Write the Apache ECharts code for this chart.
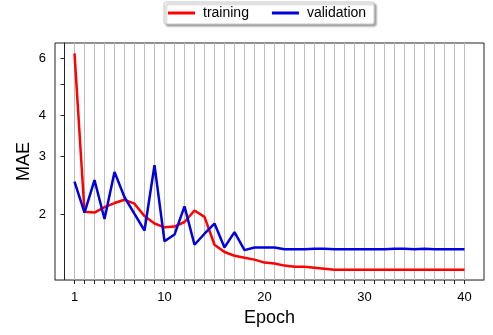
<!DOCTYPE html>
<html>
<head>
<meta charset="utf-8">
<script src="https://cdn.jsdelivr.net/npm/echarts@6/dist/echarts.min.js"></script>
<style>html,body{margin:0;padding:0;background:#fff}#c{width:493px;height:335px}</style>
</head>
<body>
<div id="c"></div>
<script>
const epochs = [1,2,3,4,5,6,7,8,9,10,11,12,13,14,15,16,17,18,19,20,21,22,23,24,25,26,27,28,29,30,31,32,33,34,35,36,37,38,39,40];
const training = [6.2,2.03,2.02,2.10,2.16,2.21,2.15,1.97,1.87,1.82,1.83,1.89,2.05,1.96,1.61,1.53,1.49,1.47,1.45,1.42,1.41,1.39,1.38,1.38,1.37,1.36,1.35,1.35,1.35,1.35,1.35,1.35,1.35,1.35,1.35,1.35,1.35,1.35,1.35,1.35];
const validation = [2.51,2.02,2.54,1.93,2.69,2.25,2.0,1.78,2.82,1.65,1.73,2.11,1.61,1.74,1.87,1.58,1.76,1.55,1.58,1.58,1.58,1.56,1.56,1.56,1.565,1.565,1.56,1.56,1.56,1.56,1.56,1.56,1.565,1.565,1.56,1.565,1.56,1.56,1.56,1.56];
const xTickLabels = [1,10,20,30,40];
const yTickLabels = [2,3,4,6];
const yTickMarks = [2,3,4,5,6];

const FONT = 'Liberation Sans, Arial, sans-serif';
const chart = echarts.init(document.getElementById('c'), null, {renderer:'canvas'});
chart.setOption({
  animation:false,
  backgroundColor:'#fff',
  legend:{
    left:164, top:2,
    padding:[4,8,4,4],
    itemGap:23,
    itemWidth:27, itemHeight:3,
    icon:'rect',
    borderColor:'#c8c8c8', borderWidth:1, borderRadius:2,
    backgroundColor:'#fff',
    shadowColor:'rgba(0,0,0,0.35)', shadowBlur:2, shadowOffsetX:2, shadowOffsetY:2,
    textStyle:{fontFamily:FONT, fontSize:14, color:'#000', padding:[0,0,0,3]},
    data:['training','validation']
  },
  grid:{left:55, right:9, top:43, bottom:55, show:true, borderColor:'#222', borderWidth:1, backgroundColor:'transparent'},
  xAxis:{
    type:'value', min:-0.95, max:41.95,
    name:'Epoch', nameLocation:'middle', nameGap:29, nameMoveOverlap:false,
    nameTextStyle:{fontFamily:FONT, fontSize:18, color:'#000'},
    axisLine:{show:true, lineStyle:{color:'#888', width:1}},
    axisTick:{show:true, inside:false, length:4, customValues:epochs, lineStyle:{color:'#222'}},
    axisLabel:{customValues:xTickLabels, fontFamily:FONT, fontSize:13, color:'#000', margin:11},
    splitLine:{show:true, customValues:epochs, lineStyle:{color:'#bdbdbd', width:1}}
  },
  yAxis:{
    type:'log', logBase:10, min:1.256, max:6.67,
    name:'MAE', nameLocation:'middle', nameGap:22, nameRotate:90, nameMoveOverlap:false,
    nameTextStyle:{fontFamily:FONT, fontSize:18, color:'#000'},
    axisLine:{show:true, lineStyle:{color:'#222', width:1}},
    axisTick:{show:true, inside:false, length:4, customValues:yTickMarks, lineStyle:{color:'#222'}},
    axisLabel:{customValues:yTickLabels, fontFamily:FONT, fontSize:13, color:'#000', margin:9},
    splitLine:{show:false},
    minorTick:{show:false}
  },
  series:[
    {name:'training', type:'line', data:epochs.map((e,i)=>[e,training[i]]), showSymbol:false, symbol:'none',
     lineStyle:{color:'#ff0000', width:2.5}, itemStyle:{color:'#ff0000'}},
    {name:'validation', type:'line', data:epochs.map((e,i)=>[e,validation[i]]), showSymbol:false, symbol:'none',
     lineStyle:{color:'#0000dd', width:2.5}, itemStyle:{color:'#0000dd'}}
  ]
});
</script>
</body>
</html>
